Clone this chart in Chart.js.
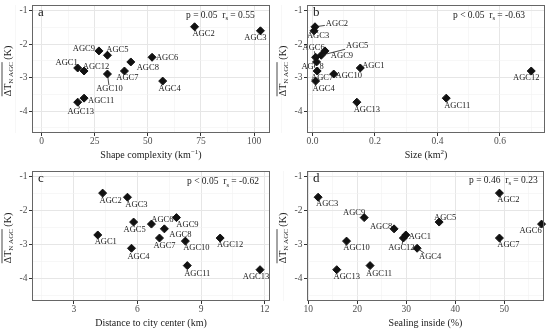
<!DOCTYPE html>
<html>
<head>
<meta charset="utf-8">
<script src="https://cdn.jsdelivr.net/npm/chart.js@4.4.1/dist/chart.umd.min.js"></script>
<style>
  body { margin: 0; background: #fff; }
  #wrap { position: relative; width: 550px; height: 332px; }
  canvas { position: absolute; }
</style>
</head>
<body>
<div id="wrap">
  <canvas id="pa" width="275" height="166" style="left:0;top:0"></canvas>
  <canvas id="pb" width="275" height="166" style="left:275px;top:0"></canvas>
  <canvas id="pc" width="275" height="166" style="left:0;top:166px"></canvas>
  <canvas id="pd" width="275" height="166" style="left:275px;top:166px"></canvas>
</div>
<script>
// data
var names   = ["AGC1","AGC2","AGC3","AGC4","AGC5","AGC6","AGC7","AGC8","AGC9","AGC10","AGC11","AGC12","AGC13"];
var deltaT  = [-2.71, -1.48, -1.6, -3.1, -2.33, -2.39, -2.8, -2.53, -2.2, -2.89, -3.61, -2.8, -3.73];
var shape   = [17, 72, 103, 57, 31, 52, 39, 42, 27, 31, 20, 20, 17];
var size    = [0.153, 0.008, 0.005, 0.01, 0.028, 0.01, 0.015, 0.013, 0.04, 0.068, 0.428, 0.70, 0.142];
var dist    = [4.13, 4.36, 5.53, 5.72, 5.82, 6.66, 7.04, 7.27, 7.84, 8.26, 8.35, 9.9, 11.78];
var sealing = [29.9, 49.0, 12.0, 32.2, 36.7, 57.6, 49.0, 27.5, 21.4, 17.8, 22.6, 29.4, 15.8];

var yTicks     = [-1, -2, -3, -4];
var shapeTicks = [0, 25, 50, 75, 100];
var sizeTicks  = [0, 0.2, 0.4, 0.6];
var sizeLabels = ["0.0", "0.2", "0.4", "0.6"];
var distTicks  = [3, 6, 9, 12];
var sealTicks  = [10, 20, 30, 40, 50];

var FONT = "'Liberation Serif', 'Times New Roman', serif";

// label offsets from the point (px), third value = leader line
var offA = {AGC1:[-11,-5],AGC2:[9,7],AGC3:[-5,7],AGC4:[7,8],AGC5:[10,-5],AGC6:[15,0],AGC7:[3,7],
            AGC8:[17,6],AGC9:[-15,-2],AGC10:[2,15,1],AGC11:[17,3],AGC12:[12,-4],AGC13:[3,10,1]};
var offB = {AGC1:[13,-2],AGC2:[22,-3,1],AGC3:[4,5],AGC4:[8,8],AGC5:[36,-9,1],AGC6:[-2,-10,1],AGC7:[5,7],
            AGC8:[-4,5],AGC9:[17,5],AGC10:[15,2],AGC11:[11,8],AGC12:[-5,7],AGC13:[10,8]};
var offC = {AGC1:[8,7],AGC2:[8,8],AGC3:[9,8],AGC4:[7,9],AGC5:[1,8],AGC6:[11,-4],AGC7:[5,8],
            AGC8:[16,6],AGC9:[11,7],AGC10:[11,7],AGC11:[10,8],AGC12:[10,7],AGC13:[-4,7]};
var offD = {AGC1:[14,2],AGC2:[9,7],AGC3:[9,7],AGC4:[13,9,1],AGC5:[6,-4],AGC6:[-11,7],AGC7:[9,7],
            AGC8:[-13,-2],AGC9:[-10,-5],AGC10:[10,7],AGC11:[9,8],AGC12:[-2,10,1],AGC13:[10,7]};

function withMinor(major) {
  var step = major[1] - major[0];
  var out = [];
  for (var i = -1; i < major.length; i++) {
    var v = (i < 0 ? major[0] : major[i]);
    if (i >= 0) out.push({value: v, major: true});
    out.push({value: (i < 0 ? major[0] - step / 2 : v + step / 2), major: false});
  }
  return out;
}

function drawRich(ctx, pieces, x, y, fs, align) {
  var total = 0;
  pieces.forEach(function (p) {
    ctx.font = ((p.sub || p.sup) ? fs * 0.7 : fs) + "px " + FONT;
    p.w = ctx.measureText(p.t).width;
    total += p.w;
  });
  var cx = align == "center" ? x - total / 2 : (align == "right" ? x - total : x);
  var ox0 = null, ox1 = null;
  ctx.textAlign = "left";
  ctx.textBaseline = "alphabetic";
  pieces.forEach(function (p) {
    ctx.font = ((p.sub || p.sup) ? fs * 0.7 : fs) + "px " + FONT;
    var dy = p.sub ? fs * 0.28 : (p.sup ? -fs * 0.38 : 0);
    ctx.fillText(p.t, cx, y + dy);
    if (p.over) { if (ox0 === null) ox0 = cx; ox1 = cx + p.w; }
    cx += p.w;
  });
  if (ox0 !== null) {
    ctx.beginPath();
    ctx.lineWidth = 0.8;
    ctx.moveTo(ox0, y - fs * 0.85);
    ctx.lineTo(ox1, y - fs * 0.85);
    ctx.stroke();
  }
}

function makePanel(id, xs, xMajor, xLabels, xmin, xmax, pad, letter, annot, annotX, annotY, xTitle, offs) {
  var isMajX = function (v) { return xMajor.some(function (m) { return Math.abs(m - v) < 1e-9; }); };
  var isMajY = function (v) { return yTicks.some(function (m) { return Math.abs(m - v) < 1e-9; }); };
  var points = xs.map(function (x, i) { return {x: x, y: deltaT[i]}; });

  var decor = {
    id: "decor" + id,
    afterDatasetsDraw: function (chart) {
      var ctx = chart.ctx, a = chart.chartArea;
      var xs_ = chart.scales.x, ys_ = chart.scales.y;
      var meta = chart.getDatasetMeta(0);
      ctx.save();
      // point labels
      ctx.font = "8.5px " + FONT;
      ctx.fillStyle = "#1a1a1a";
      ctx.strokeStyle = "#1a1a1a";
      ctx.textAlign = "center";
      ctx.textBaseline = "middle";
      names.forEach(function (n, i) {
        var el = meta.data[i], o = offs[n];
        var lx = el.x + o[0], ly = el.y + o[1];
        ctx.fillText(n, lx, ly);
        if (o[2]) {
          var hw = ctx.measureText(n).width / 2 + 1, hh = 4;
          var dx = el.x - lx, dy = el.y - ly;
          var t = Math.min(Math.abs(dx) > 0 ? hw / Math.abs(dx) : 99, Math.abs(dy) > 0 ? hh / Math.abs(dy) : 99);
          ctx.beginPath();
          ctx.lineWidth = 0.8;
          ctx.moveTo(lx + dx * t, ly + dy * t);
          ctx.lineTo(el.x, el.y);
          ctx.stroke();
        }
      });
      ctx.restore();
    },
    afterDraw: function (chart) {
      var ctx = chart.ctx, a = chart.chartArea;
      var xs_ = chart.scales.x, ys_ = chart.scales.y;
      ctx.save();
      // frame
      ctx.strokeStyle = "#666";
      ctx.lineWidth = 1;
      ctx.strokeRect(Math.round(a.left) + 0.5, Math.round(a.top) + 0.5, Math.round(a.right - a.left) - 1, Math.round(a.bottom - a.top) - 1);
      // tick labels
      ctx.fillStyle = "#4d4d4d";
      ctx.font = "9.5px " + FONT;
      ctx.textAlign = "right";
      ctx.textBaseline = "middle";
      yTicks.forEach(function (v) { ctx.fillText(String(v), a.left - 4.5, ys_.getPixelForValue(v)); });
      ctx.textAlign = "center";
      xMajor.forEach(function (v, i) { ctx.fillText(xLabels[i], xs_.getPixelForValue(v), a.bottom + 8); });
      // x title
      ctx.fillStyle = "#1a1a1a";
      drawRich(ctx, xTitle, (a.left + a.right) / 2, a.bottom + 24.5, 10, "center");
      // y title
      ctx.save();
      ctx.strokeStyle = "#1a1a1a";
      ctx.translate(10.5, (a.top + a.bottom) / 2 + 2);
      ctx.rotate(-Math.PI / 2);
      drawRich(ctx, [{t: "\u0394T", over: 1}, {t: "N AGC", sub: 1, over: 1}, {t: " (K)"}], 0, 0, 10, "center");
      ctx.restore();
      // panel letter
      ctx.font = "13px " + FONT;
      ctx.textAlign = "left";
      ctx.textBaseline = "alphabetic";
      ctx.fillText(letter, a.left + 6, a.top + 10.5);
      // statistics
      drawRich(ctx, annot, a.left + annotX, a.top + annotY, 9.5, "left");
      ctx.restore();
    }
  };

  return new Chart(document.getElementById(id), {
    type: "scatter",
    data: {
      datasets: [{
        data: points,
        pointStyle: "rectRot",
        pointRadius: 4,
        pointBorderWidth: 1,
        backgroundColor: "#111",
        borderColor: "#111",
        clip: false
      }]
    },
    options: {
      responsive: false,
      devicePixelRatio: 1,
      animation: false,
      layout: {padding: {left: 0, top: pad[0], right: pad[1], bottom: 0}},
      plugins: {legend: {display: false}, tooltip: {enabled: false}},
      scales: {
        x: {
          type: "linear", min: xmin, max: xmax,
          afterBuildTicks: function (s) { s.ticks = withMinor(xMajor); },
          afterFit: function (s) { s.height = pad[2]; },
          ticks: {display: false},
          border: {display: false},
          grid: {
            color: function (c) { return c.tick && isMajX(c.tick.value) ? "#e6e6e6" : "#f1f1f1"; },
            lineWidth: function (c) { return c.tick && isMajX(c.tick.value) ? 1 : 0.6; },
            tickColor: function (c) { return c.tick && isMajX(c.tick.value) ? "#333" : "rgba(0,0,0,0)"; },
            tickLength: 3, tickWidth: 1
          }
        },
        y: {
          type: "linear", min: -4.65, max: -0.83,
          afterBuildTicks: function (s) { s.ticks = withMinor(yTicks); },
          afterFit: function (s) { s.width = 32; },
          ticks: {display: false},
          border: {display: false},
          grid: {
            color: function (c) { return c.tick && isMajY(c.tick.value) ? "#e6e6e6" : "#f1f1f1"; },
            lineWidth: function (c) { return c.tick && isMajY(c.tick.value) ? 1 : 0.6; },
            tickColor: function (c) { return c.tick && isMajY(c.tick.value) ? "#333" : "rgba(0,0,0,0)"; },
            tickLength: 3, tickWidth: 1
          }
        }
      }
    },
    plugins: [decor]
  });
}

makePanel("pa", shape, shapeTicks, shapeTicks.map(String), -4.5, 107.5, [5, 3, 33], "a",
  [{t: "p = 0.05  r"}, {t: "s", sub: 1}, {t: " = 0.55"}], 154, 12.5,
  [{t: "Shape complexity (km"}, {t: "\u22121", sup: 1}, {t: ")"}], offA);

makePanel("pb", size, sizeTicks, sizeLabels, -0.0175, 0.744, [5, 4, 33], "b",
  [{t: "p < 0.05  r"}, {t: "s", sub: 1}, {t: " = -0.63"}], 146, 12.5,
  [{t: "Size (km"}, {t: "2", sup: 1}, {t: ")"}], offB);

makePanel("pc", dist, distTicks, distTicks.map(String), 1.03, 12.25, [3.5, 4, 31], "c",
  [{t: "p < 0.05  r"}, {t: "s", sub: 1}, {t: " = -0.62"}], 155, 13,
  [{t: "Distance to city center (km)"}], offC);

makePanel("pd", sealing, sealTicks, sealTicks.map(String), 9.73, 58.1, [3.5, 6, 31], "d",
  [{t: "p = 0.46  r"}, {t: "s", sub: 1}, {t: " = 0.23"}], 162, 11.5,
  [{t: "Sealing inside (%)"}], offD);
</script>
</body>
</html>
